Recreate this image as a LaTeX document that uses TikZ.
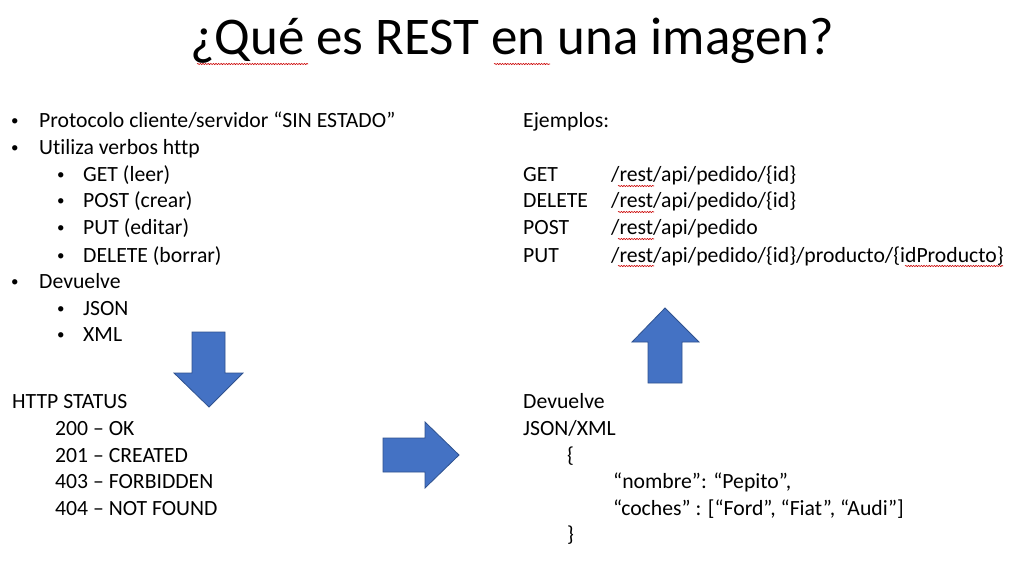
\documentclass[tikz,border=0pt]{standalone}
\usepackage{fontspec}
\setmainfont{Carlito}[Ligatures=CommonOff]
\usetikzlibrary{decorations.pathmorphing}
\definecolor{arrowblue}{HTML}{4472C4}
\definecolor{arrowedge}{HTML}{2F528F}
\begin{document}
\begin{tikzpicture}[x=1pt,y=-1pt,
  txt/.style={anchor=base west, inner sep=0pt, font=\fontsize{21.7}{26}\selectfont, text=black},
  bul/.style={anchor=base west, inner sep=0pt, font=\fontsize{15}{18}\selectfont, text=black, yshift=2pt},
  ttl/.style={anchor=base, inner sep=0pt, font=\fontsize{53}{62}\selectfont, text=black},
  blockarrow/.style={fill=arrowblue, draw=arrowedge, line width=0.8pt, line join=miter},
  spell/.style={draw=red!80!black, line width=0.6pt, decorate,
    decoration={snake, amplitude=0.6pt, segment length=2.6pt}}]
\useasboundingbox[fill=white] (0,0) rectangle (1024,577);

% title
\node[ttl] (title) at (512,55) {¿Qué es REST en una imagen?};

% left column: bullet list
\node[bul] (b1)  at (11,128) {•};  \node[txt] (t1)  at (39,128) {Protocolo cliente/servidor “SIN ESTADO”};
\node[bul] (b2)  at (11,155) {•};  \node[txt] (t2)  at (39,155) {Utiliza verbos http};
\node[bul] (b3)  at (57,182) {•};  \node[txt] (t3)  at (83,182) {GET (leer)};
\node[bul] (b4)  at (57,208) {•};  \node[txt] (t4)  at (83,208) {POST (crear)};
\node[bul] (b5)  at (57,235) {•};  \node[txt] (t5)  at (83,235) {PUT (editar)};
\node[bul] (b6)  at (57,262) {•};  \node[txt] (t6)  at (83,262) {DELETE (borrar)};
\node[bul] (b7)  at (11,288) {•};  \node[txt] (t7)  at (39,288) {Devuelve};
\node[bul] (b8)  at (57,315) {•};  \node[txt] (t8)  at (83,315) {JSON};
\node[bul] (b9)  at (57,341) {•};  \node[txt] (t9)  at (83,341) {XML};

% left column: status codes
\node[txt] (hs)   at (12,408) {HTTP STATUS};
\node[txt] (s200) at (55,435) {200 – OK};
\node[txt] (s201) at (55,462) {201 – CREATED};
\node[txt] (s403) at (55,488) {403 – FORBIDDEN};
\node[txt] (s404) at (55,515) {404 – NOT FOUND};

% right column: examples
\node[txt] (ej)   at (523,128) {Ejemplos:};
\node[txt] (mget) at (523,182) {GET};    \node[txt] (pget) at (611,182) {/rest/api/pedido/\{id\}};
\node[txt] (mdel) at (523,208) {DELETE}; \node[txt] (pdel) at (611,208) {/rest/api/pedido/\{id\}};
\node[txt] (mpos) at (523,235) {POST};   \node[txt] (ppos) at (611,235) {/rest/api/pedido};
\node[txt] (mput) at (523,262) {PUT};    \node[txt] (pput) at (611,262) {/rest/api/pedido/\{id\}/producto/\{idProducto\}};

% right column: response body
\node[txt] (dv)  at (523,408) {Devuelve};
\node[txt] (jx)  at (523,435) {JSON/XML};
\node[txt] (ob)  at (567,462) {\{};
\node[txt] (j1)  at (613,488) {“nombre”: “Pepito”,};
\node[txt] (j2)  at (613,515) {“coches” : [“Ford”, “Fiat”, “Audi”]};
\node[txt] (cb)  at (567,541) {\}};

% block arrows
\path[blockarrow] (192,332) -- (225,332) -- (225,373) -- (243,373) -- (209,407)
  -- (174,373) -- (192,373) -- cycle;
\path[blockarrow] (383,438) -- (425,438) -- (425,422) -- (459,455) -- (425,488)
  -- (425,472) -- (383,472) -- cycle;
\path[blockarrow] (648,383) -- (648,342) -- (632,342) -- (665,308) -- (699,342)
  -- (682,342) -- (682,383) -- cycle;

% spell-check underlines
\draw[spell] (197,64) -- (308,64);
\draw[spell] (494,64) -- (550,64);
\foreach \yy in {186,212,239,266} \draw[spell] (618,\yy) -- (654,\yy);
\draw[spell] (905,266) -- (1003,266);
\end{tikzpicture}
\end{document}
